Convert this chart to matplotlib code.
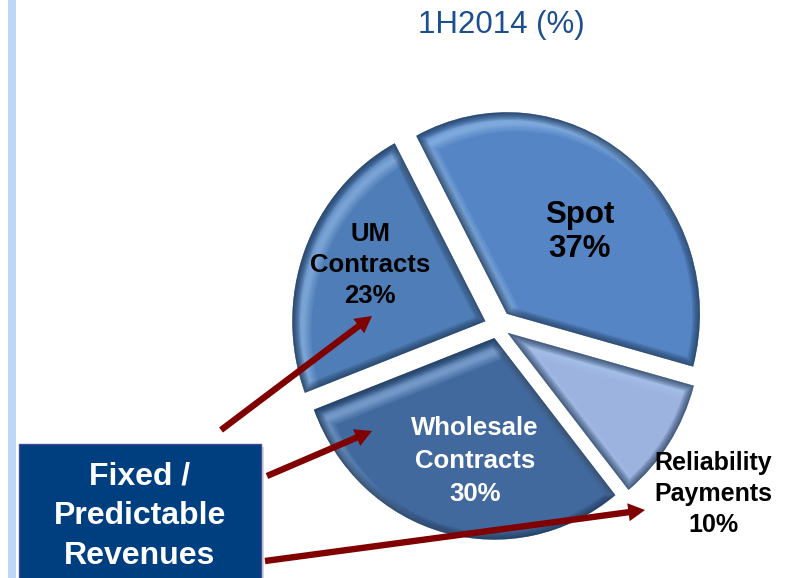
import matplotlib
matplotlib.use("Agg")
import matplotlib.pyplot as plt
from matplotlib.patches import PathPatch, Rectangle, FancyArrowPatch
from matplotlib.transforms import Affine2D

plt.rcParams['font.family'] = ['Liberation Sans', 'DejaVu Sans']

# data
categories = ['Spot', 'Reliability Payments', 'Wholesale Contracts', 'UM Contracts']
shares = [37, 10, 30, 23]
colors = ['#5585C5', '#9DB3DF', '#41699E', '#4F7DB7']
title = '1H2014 (%)'
box_label = 'Fixed /\nPredictable\nRevenues'

W, H = 792, 578
PIE_STRETCH = 1.044  # the pie in the picture is a bit taller than wide


def py(y):
    # reference pixel row -> data y
    return H - y


fig = plt.figure(figsize=(7.92, 5.78), dpi=100)

# pie gets its own axes so it can be stretched vertically
ax_pie = fig.add_axes([0, 0, 1, 1])
wedges, _ = ax_pie.pie(shares, colors=colors, startangle=118, counterclock=False,
                       explode=[15, 12, 12, 13], radius=193,
                       center=(497.5, py(326) / PIE_STRETCH), frame=True)
ax_pie.set_aspect('auto')
ax_pie.set_xlim(0, W)
ax_pie.set_ylim(0, H / PIE_STRETCH)
ax_pie.axis('off')

ax = fig.add_axes([0, 0, 1, 1])
ax.set_xlim(0, W)
ax.set_ylim(0, H)
ax.axis('off')
ax.patch.set_alpha(0)


def emboss(wedge, dx, dy, color, widths, alpha):
    # soft stroke of the wedge outline, shifted and clipped to the wedge
    path = wedge.get_path()
    tr = wedge.get_transform() + Affine2D().translate(dx, dy)
    for lw in widths:
        p = PathPatch(path, transform=tr, fc='none', ec=color, lw=lw,
                      alpha=alpha, zorder=wedge.get_zorder() + 1)
        ax_pie.add_patch(p)
        p.set_clip_path(wedge)


for w in wedges:
    emboss(w, 10, -10, '#A9CDF5', [13, 10, 7, 5, 3], 0.13)
    emboss(w, 0, 0, '#1C3350', [11, 9, 7, 5, 3, 2], 0.16)

# labels
ax.text(580, py(232), 'Spot\n37%', ha='center', va='center', fontsize=22.5,
        fontweight='bold', color='black', linespacing=1.15, zorder=5)
ax.text(370, py(265), 'UM\nContracts\n23%', ha='center', va='center', fontsize=18.5,
        fontweight='bold', color='black', linespacing=1.38, zorder=5)
ax.text(475, py(461), 'Wholesale\nContracts\n30%', ha='center', va='center', fontsize=18.5,
        fontweight='bold', color='white', linespacing=1.45, zorder=5)
ax.text(713, py(494), 'Reliability\nPayments\n10%', ha='center', va='center', fontsize=18,
        fontweight='bold', color='black', linespacing=1.38, zorder=5)

ax.text(501, py(25), title, ha='center', va='center', fontsize=22.5, color='#1B4F8F')

# left stripe and box
ax.add_patch(Rectangle((8, 0), 8, H, fc='#BDD7F7', ec='none', zorder=1))
ax.add_patch(Rectangle((22, -8), 242, py(444) + 5, fc='#D8D8D8', ec='none', zorder=6))
ax.add_patch(Rectangle((19, -5), 242, py(444) + 5, fc='#003F7F', ec='#45489A', lw=1, zorder=7))
ax.text(140, py(516), box_label, ha='center', va='center', fontsize=23,
        fontweight='bold', color='white', linespacing=1.42, zorder=8)

# arrows from the box
arrows = [((221, 430), (372, 316)), ((267, 476), (372, 431)), ((265, 561), (645, 510))]
for start, end in arrows:
    ax.add_patch(FancyArrowPatch((start[0], py(start[1])), (end[0], py(end[1])),
                                 arrowstyle='simple,head_length=12,head_width=13,tail_width=4.6',
                                 mutation_scale=1, lw=0, color='#800000',
                                 shrinkA=0, shrinkB=0, zorder=9))

fig.savefig('out.png', dpi=100)
